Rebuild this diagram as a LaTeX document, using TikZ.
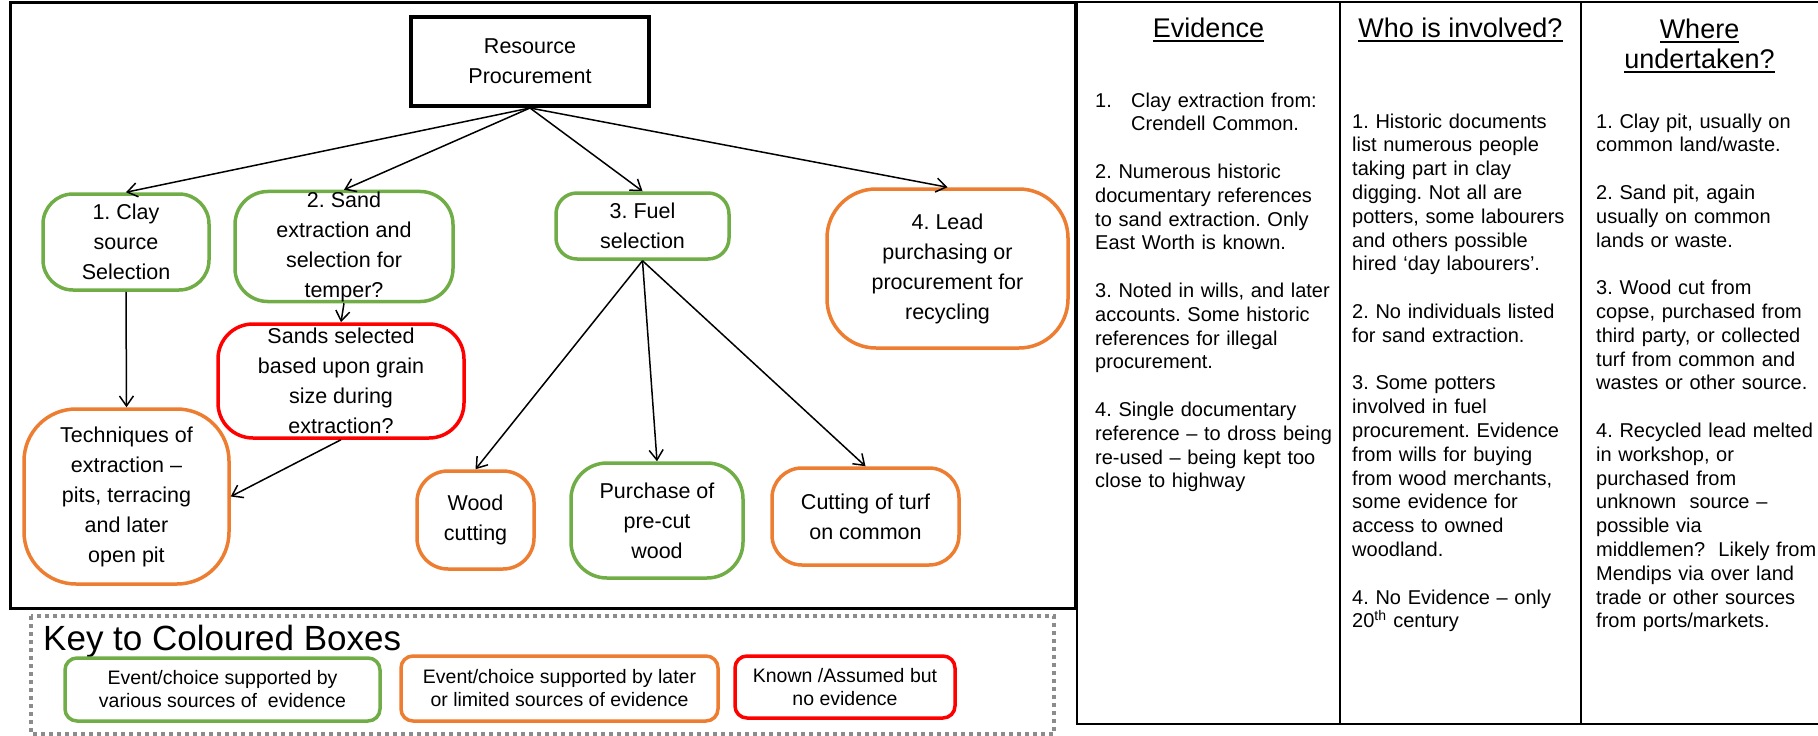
\documentclass[tikz,border=0pt]{standalone}
\usepackage{fontspec}
\setmainfont{Liberation Sans}
\usetikzlibrary{arrows.meta}

\definecolor{evgreen}{HTML}{70AD47}
\definecolor{evorange}{HTML}{ED7D31}
\definecolor{evred}{HTML}{FF0000}
\definecolor{keygray}{HTML}{8C8C8C}

% underlined column heading
\newcommand{\hdrline}[1]{\setbox0\hbox{#1}\rlap{\rule[-4.5pt]{\wd0}{1.8pt}}\box0}

\tikzset{
  boxtext/.style={font=\fontsize{21.5}{30}\selectfont, align=center, inner sep=0pt},
  greenbox/.style={boxtext, draw=evgreen, line width=3.5pt, rounded corners=#1},
  orangebox/.style={boxtext, draw=evorange, line width=3.5pt, rounded corners=#1},
  redbox/.style={boxtext, draw=evred, line width=3.5pt, rounded corners=#1},
  keybox/.style={font=\fontsize{19.5}{23}\selectfont, align=center, inner sep=0pt,
                 line width=3.5pt, rounded corners=12pt},
  conn/.style={line width=1.5pt, -{Straight Barb[length=10pt,width=14pt]}},
  hdr/.style={font=\fontsize{27}{30}\selectfont, inner sep=0pt, anchor=base},
  coltext/.style={font=\fontsize{20}{23.8}\selectfont, text width=260pt, align=left,
                  inner sep=0pt, anchor=base west},
}

\begin{document}
\frenchspacing
\begin{tikzpicture}[x=1pt,y=-1pt]
\useasboundingbox (0,0) rectangle (1818,736);

% ---------- table on the right ----------
\draw[line width=2pt] (1822,1.5) -- (1076.5,1.5) -- (1076.5,724) -- (1822,724);
\draw[line width=2.5pt] (1340,1.5) -- (1340,724);
\draw[line width=2.5pt] (1581,1.5) -- (1581,724);

\node[hdr] (hev) at (1208.5,37) {\hdrline{Evidence}};
\node[hdr] (hwho) at (1460.5,37) {\hdrline{Who is involved?}};
\node[hdr] (hwhere) at (1699.5,38) {\hdrline{Where}};
\node[hdr] (hunder) at (1699.5,68) {\hdrline{undertaken?}};

\node[coltext] (evtext) at (1095,107) {%
\makebox[36pt][l]{1.}Clay extraction from:\\
\hspace*{36pt}Crendell Common.\\[23.8pt]
2. Numerous historic\\
documentary references\\
to sand extraction. Only\\
East Worth is known.\\[23.8pt]
3. Noted in wills, and later\\
accounts. Some historic\\
references for illegal\\
procurement.\\[23.8pt]
4. Single documentary\\
reference -- to dross being\\
re-used -- being kept too\\
close to highway};

\node[coltext] (whotext) at (1352,128) {%
1. Historic documents\\
list numerous people\\
taking part in clay\\
digging. Not all are\\
potters, some labourers\\
and others possible\\
hired ‘day labourers’.\\[23.8pt]
2. No individuals listed\\
for sand extraction.\\[23.8pt]
3. Some potters\\
involved in fuel\\
procurement. Evidence\\
from wills for buying\\
from wood merchants,\\
some evidence for\\
access to owned\\
woodland.\\[23.8pt]
4. No Evidence -- only\\
20\textsuperscript{th} century};

\node[coltext] (wheretext) at (1596,128) {%
1. Clay pit, usually on\\
common land/waste.\\[23.8pt]
2. Sand pit, again\\
usually on common\\
lands or waste.\\[23.8pt]
3. Wood cut from\\
copse, purchased from\\
third party, or collected\\
turf from common and\\
wastes or other source.\\[23.8pt]
4. Recycled lead melted\\
in workshop, or\\
purchased from\\
unknown\ \ source --\\
possible via\\
middlemen?\ \ Likely from\\
Mendips via over land\\
trade or other sources\\
from ports/markets.};

% ---------- flow chart frame ----------
\draw[line width=3.5pt] (10.7,2.5) rectangle (1076,608.5);

\node[boxtext, draw=black, line width=4pt, minimum width=238pt, minimum height=89pt]
  (res) at (530,61.5) {Resource\\Procurement};

\node[greenbox=30pt, minimum width=166pt, minimum height=96pt]
  (clay) at (126,242) {1. Clay\\source\\Selection};
\node[greenbox=33pt, minimum width=218pt, minimum height=107pt]
  (sand) at (344,246.5) {2. Sand\\extraction and\\selection for\\temper?};
\node[greenbox=21pt, minimum width=173pt, minimum height=66pt]
  (fuel) at (642.5,226) {3. Fuel\\selection};
\node[orangebox=49pt, minimum width=241pt, minimum height=159pt]
  (lead) at (947.5,268.5) {4. Lead\\purchasing or\\procurement for\\recycling};

\node[redbox=35pt, minimum width=246pt, minimum height=114pt]
  (sands) at (341,381) {Sands selected\\based upon grain\\size during\\extraction?};
\node[orangebox=52pt, minimum width=205pt, minimum height=175pt]
  (tech) at (126.5,496.5) {Techniques of\\extraction --\\pits, terracing\\and later\\open pit};

\node[orangebox=31pt, minimum width=117pt, minimum height=98pt]
  (wood) at (475.5,520) {Wood\\cutting};
\node[greenbox=36pt, minimum width=172pt, minimum height=115pt]
  (purch) at (657,520.5) {Purchase of\\pre-cut\\wood};
\node[orangebox=30pt, minimum width=187pt, minimum height=97pt]
  (turf) at (865.5,516.5) {Cutting of turf\\on common};

% connectors
\draw[conn] (res.south) -- (clay.north);
\draw[conn] (res.south) -- (sand.north);
\draw[conn] (res.south) -- (fuel.north);
\draw[conn] (res.south) -- (lead.north);
\draw[conn] (sand.south) -- (sands.north);
\draw[conn] (clay.south) -- (tech.north);
\draw[conn] (sands.south) -- (tech.east);
\draw[conn] (fuel.south) -- (wood.north);
\draw[conn] (fuel.south) -- (purch.north);
\draw[conn] (fuel.south) -- (turf.north);

% ---------- key ----------
\draw[keygray, line width=4pt, dash pattern=on 4pt off 4pt] (31,616) rectangle (1054,734);
\node[anchor=base west, inner sep=0pt, font=\fontsize{35}{40}\selectfont]
  (keytitle) at (43,650) {Key to Coloured Boxes};
\node[keybox, draw=evgreen, minimum width=315pt, minimum height=63pt]
  (keyg) at (222.5,689.5) {Event/choice supported by\\various sources of\ \ evidence};
\node[keybox, draw=evorange, minimum width=317pt, minimum height=65pt]
  (keyo) at (559.5,688.5) {Event/choice supported by later\\or limited sources of evidence};
\node[keybox, draw=evred, minimum width=220pt, minimum height=62pt]
  (keyr) at (845,687) {Known /Assumed but\\no evidence};
\end{tikzpicture}
\end{document}
